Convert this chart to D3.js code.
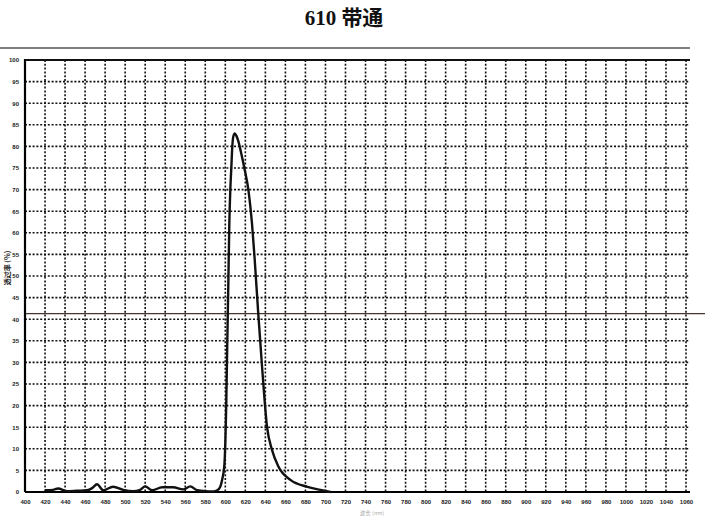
<!DOCTYPE html>
<html>
<head>
<meta charset="utf-8">
<script src="https://cdn.jsdelivr.net/npm/d3@7/dist/d3.min.js"></script>
<style>
  body { margin: 0; background: #fff; }
  svg { display: block; }
</style>
</head>
<body>
<svg id="chart" width="720" height="520"></svg>
<script>
// ---- data ----
const title = "610 带通";
const yTitle = "透过率 (%)";
const xTitle = "波长 (nm)";
const xTickValues = d3.range(400, 1061, 20);
const yTickValues = d3.range(0, 101, 5);
const refLevel = 41.3;
const wavelength = [420, 428, 433, 442, 452, 462, 467, 472, 478, 488, 498, 508, 515, 520, 527, 537, 548, 558, 565, 572, 580, 588, 592, 595, 597, 599, 601, 602, 603, 604, 605, 606, 607, 608, 609.5, 611, 613, 616, 619, 623, 626.7, 629.3, 632.7, 636.7, 641.7, 646.7, 653, 665, 682, 695, 705];
const transmission = [0.4, 0.5, 0.8, 0.2, 0.3, 0.4, 0.9, 1.8, 0.4, 1.2, 0.5, 0.2, 0.5, 1.3, 0.4, 1.1, 1.1, 0.6, 1.3, 0.4, 0.2, 0.15, 0.4, 1.2, 3, 6, 21, 35, 48, 62, 70, 75, 80, 82.3, 83, 82.5, 81.2, 78.3, 75, 70, 62, 54, 42, 29, 15, 9.7, 5.9, 2.8, 1.2, 0.5, 0];

// ---- chart ----
const svg = d3.select("#chart");
const x = d3.scaleLinear().domain([400, 1060]).range([25, 686]);
const y = d3.scaleLinear().domain([0, 100]).range([492, 60]);

// title
svg.append("text")
  .attr("x", 344).attr("y", 25)
  .attr("text-anchor", "middle")
  .attr("font-family", "'Liberation Serif', 'Noto Sans CJK SC', serif")
  .attr("font-weight", "bold")
  .attr("font-size", 21)
  .attr("fill", "#111")
  .text(title);

// separator line above the plot
svg.append("line")
  .attr("x1", 0).attr("x2", 690).attr("y1", 48).attr("y2", 48)
  .attr("stroke", "#555").attr("stroke-width", 1.3);

// grid
const grid = svg.append("g")
  .attr("stroke", "#111").attr("stroke-width", 1.6)
  .attr("stroke-dasharray", "2,1.8");
grid.selectAll("line.v").data(xTickValues.filter(d => d > 400))
  .join("line").attr("class", "v")
  .attr("x1", d => x(d)).attr("x2", d => x(d))
  .attr("y1", y(100)).attr("y2", y(0));
grid.selectAll("line.h").data(yTickValues.filter(d => d > 0 && d < 100))
  .join("line").attr("class", "h")
  .attr("x1", x(400)).attr("x2", 689)
  .attr("y1", d => y(d)).attr("y2", d => y(d));

// reference line
svg.append("line")
  .attr("x1", x(400)).attr("x2", 705)
  .attr("y1", y(refLevel)).attr("y2", y(refLevel))
  .attr("stroke", "#4a3430").attr("stroke-width", 1.3);

// axes frame
svg.append("line")
  .attr("x1", x(400)).attr("x2", x(400)).attr("y1", y(100) - 1).attr("y2", y(0))
  .attr("stroke", "#000").attr("stroke-width", 2.2);
svg.append("line")
  .attr("x1", x(400)).attr("x2", 690).attr("y1", y(100)).attr("y2", y(100))
  .attr("stroke", "#111").attr("stroke-width", 2);
svg.append("line")
  .attr("x1", x(400)).attr("x2", 690).attr("y1", y(0)).attr("y2", y(0))
  .attr("stroke", "#000").attr("stroke-width", 2.2);

// x axis labels
const xAxis = d3.axisBottom(x).tickValues(xTickValues).tickSize(0).tickPadding(8)
  .tickFormat(d3.format("d"));
const gx = svg.append("g").attr("transform", `translate(0,${y(0)})`).call(xAxis);
gx.select(".domain").remove();
gx.selectAll("text")
  .attr("font-family", "'Liberation Sans', Arial, sans-serif")
  .attr("font-weight", "bold").attr("font-size", 6).attr("fill", "#222");

// y axis labels
const yAxis = d3.axisLeft(y).tickValues(yTickValues).tickSize(0).tickPadding(6)
  .tickFormat(d3.format("d"));
const gy = svg.append("g").attr("transform", `translate(${x(400)},0)`).call(yAxis);
gy.select(".domain").remove();
gy.selectAll("text")
  .attr("font-family", "'Liberation Sans', Arial, sans-serif")
  .attr("font-weight", "bold").attr("font-size", 6).attr("fill", "#222");

// axis titles
svg.append("text")
  .attr("transform", `translate(10,268) rotate(-90)`)
  .attr("text-anchor", "middle")
  .attr("font-family", "'Noto Sans CJK SC', sans-serif")
  .attr("font-weight", "bold").attr("font-size", 7).attr("fill", "#222")
  .text(yTitle);
svg.append("text")
  .attr("x", 372).attr("y", 515)
  .attr("text-anchor", "middle")
  .attr("font-family", "'Noto Sans CJK SC', sans-serif")
  .attr("font-size", 5.5).attr("fill", "#aaa")
  .text(xTitle);

// curve
const data = wavelength.map((w, i) => [w, transmission[i]]);
const line = d3.line().x(d => x(d[0])).y(d => y(d[1])).curve(d3.curveMonotoneX);
svg.append("path")
  .datum(data)
  .attr("d", line)
  .attr("fill", "none")
  .attr("stroke", "#111")
  .attr("stroke-width", 2.4)
  .attr("stroke-linejoin", "round");
</script>
</body>
</html>
